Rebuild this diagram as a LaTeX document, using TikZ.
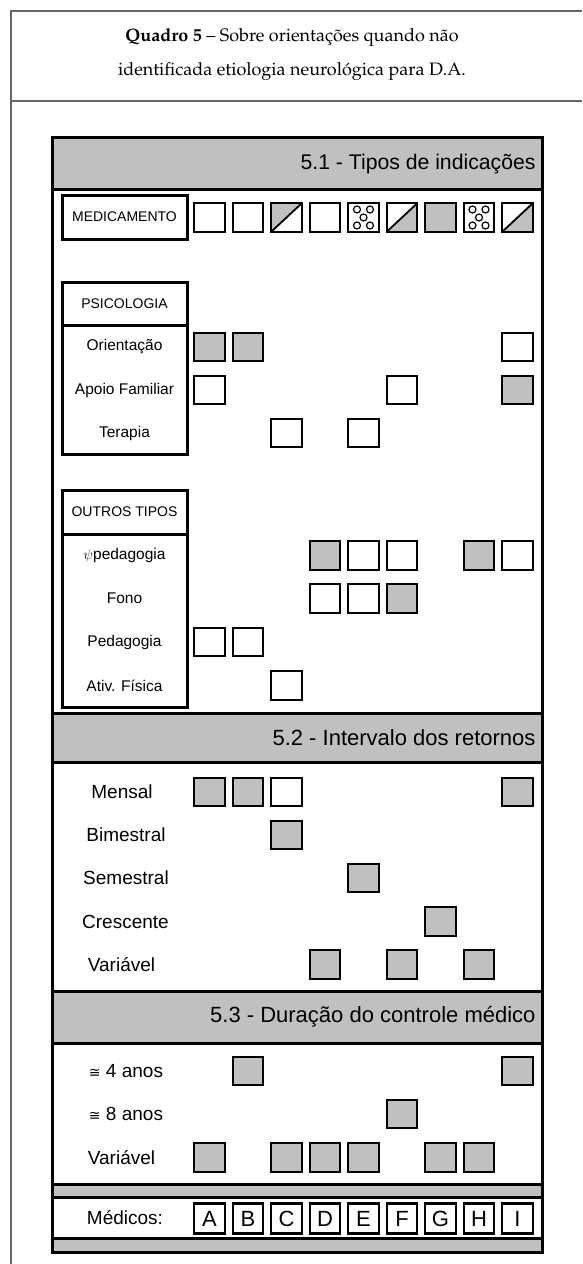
\documentclass[tikz,border=0pt]{standalone}
\usepackage[T1]{fontenc}
\usepackage{fontspec}
\setsansfont{Liberation Sans}
\newfontfamily\simbolo{DejaVu Sans}
\usepackage{tikz}

\definecolor{cinza}{RGB}{192,192,192}

\begin{document}
\begin{tikzpicture}[x = 1pt, y = -1pt,
  marca/.style = {draw, line width = 2.4pt, minimum width = 30.5pt, minimum height = 28.5pt, inner sep = 0pt},
  vazio/.style = {marca, fill = white},
  cheio/.style = {marca, fill = cinza},
  meiacima/.style = {marca, fill = white, path picture = {
     \fill[cinza] (path picture bounding box.north west) -- (path picture bounding box.north east) -- (path picture bounding box.south west) -- cycle;
     \draw[line width = 1.8pt] (path picture bounding box.south west) -- (path picture bounding box.north east);}},
  meiabaixo/.style = {marca, fill = white, path picture = {
     \fill[cinza] (path picture bounding box.south west) -- (path picture bounding box.south east) -- (path picture bounding box.north east) -- cycle;
     \draw[line width = 1.8pt] (path picture bounding box.south west) -- (path picture bounding box.north east);}},
  bolinha/.style = {line width = 1.2pt},
  letra/.style = {marca, fill = white, minimum height = 30pt, font = \sffamily\fontsize{22}{22}\selectfont},
  grupo/.style = {line width = 3pt},
  rotulo/.style = {font = \sffamily\fontsize{14}{15}\selectfont},
  subrotulo/.style = {font = \sffamily\fontsize{15.5}{16}\selectfont},
  linha/.style = {font = \sffamily\fontsize{19}{20}\selectfont},
  faixa/.style = {font = \sffamily\fontsize{22}{24}\selectfont, anchor = east}]

\useasboundingbox (0,0) rectangle (582,1264);

% moldura do quadro
\draw[line width = 1.3pt, black!60] (11,1264) -- (11,11) -- (582,11);
\draw[line width = 1.3pt, black!60] (11,101) -- (582,101);
\node[align = center, font = \fontencoding{T1}\fontfamily{ppl}\fontsize{18}{34}\selectfont] (titulo) at (292,55)
  {{\bfseries Quadro 5} -- Sobre orientações quando não\\identificada etiologia neurológica para D.A.};

% faixas cinzentas
\fill[cinza] (52,137) rectangle (542,189);
\fill[cinza] (52,713) rectangle (542,762);
\fill[cinza] (52,991) rectangle (542,1043);
\fill[cinza] (52,1184) rectangle (542,1197);
\fill[cinza] (52,1238) rectangle (542,1252);
\draw[grupo] (52,137) rectangle (542,1252);
\draw[grupo] (52,189) -- (542,189);
\draw[grupo] (52,713) -- (542,713);
\draw[grupo] (52,762) -- (542,762);
\draw[grupo] (52,991) -- (542,991);
\draw[grupo] (52,1043) -- (542,1043);
\draw[grupo] (52,1184) -- (542,1184);
\draw[grupo] (52,1197) -- (542,1197);
\draw[grupo] (52,1238) -- (542,1238);
\node[faixa, font = \sffamily\fontsize{21.2}{24}\selectfont] (f1) at (539,164) {5.1 - Tipos de indicações};
\node[faixa] (f2) at (539,738) {5.2 - Intervalo dos retornos};
\node[faixa] (f3) at (539,1017) {5.3 - Duração do controle médico};

% 5.1
\draw[grupo] (62,195) rectangle (187,239);
\draw[grupo] (62,282) rectangle (187,454);
\draw[grupo] (62,325) -- (187,325);
\draw[grupo] (62,490) rectangle (187,707);
\draw[grupo] (62,534) -- (187,534);
\node[rotulo] (med) at (124.5,217) {MEDICAMENTO};
\node[rotulo] (psi) at (124.5,303.5) {PSICOLOGIA};
\node[subrotulo] (ori) at (124.5,347) {Orientação};
\node[subrotulo] (apo) at (124.5,390) {Apoio Familiar};
\node[subrotulo] (ter) at (124.5,433) {Terapia};
\node[rotulo] (out) at (124.5,512) {OUTROS TIPOS};
\node[subrotulo] (ped) at (124.5,555.5) {$\psi$pedagogia};
\node[subrotulo] (fon) at (124.5,598.5) {Fono};
\node[subrotulo] (pdg) at (124.5,642) {Pedagogia};
\node[subrotulo] (ati) at (124.5,685.5) {Ativ. Física};

\node[vazio] (med-A) at (209.5,217.5) {};
\node[vazio] (med-B) at (248,217.5) {};
\node[meiacima] (med-C) at (286.5,217.5) {};
\node[vazio] (med-D) at (325,217.5) {};
\node[vazio] (med-E) at (363.5,217.5) {};
\node[meiabaixo] (med-F) at (402,217.5) {};
\node[cheio] (med-G) at (440.5,217.5) {};
\node[vazio] (med-H) at (479,217.5) {};
\node[meiabaixo] (med-I) at (517.5,217.5) {};
\draw[bolinha] (med-E) ++(-6.5,-8) circle[radius = 3.5];
\draw[bolinha] (med-E) ++(6.5,-8) circle[radius = 3.5];
\draw[bolinha] (med-E) ++(0,0) circle[radius = 3.5];
\draw[bolinha] (med-E) ++(-6.5,8) circle[radius = 3.5];
\draw[bolinha] (med-E) ++(6.5,8) circle[radius = 3.5];
\draw[bolinha] (med-H) ++(-6.5,-8) circle[radius = 3.5];
\draw[bolinha] (med-H) ++(6.5,-8) circle[radius = 3.5];
\draw[bolinha] (med-H) ++(0,0) circle[radius = 3.5];
\draw[bolinha] (med-H) ++(-6.5,8) circle[radius = 3.5];
\draw[bolinha] (med-H) ++(6.5,8) circle[radius = 3.5];

\node[cheio] (ori-A) at (209.5,347) {};
\node[cheio] (ori-B) at (248,347) {};
\node[vazio] (ori-I) at (517.5,347) {};
\node[vazio] (apo-A) at (209.5,390) {};
\node[vazio] (apo-F) at (402,390) {};
\node[cheio] (apo-I) at (517.5,390) {};
\node[vazio] (ter-C) at (286.5,433) {};
\node[vazio] (ter-E) at (363.5,433) {};

\node[cheio] (ped-D) at (325,555.5) {};
\node[vazio] (ped-E) at (363.5,555.5) {};
\node[vazio] (ped-F) at (402,555.5) {};
\node[cheio] (ped-H) at (479,555.5) {};
\node[vazio] (ped-I) at (517.5,555.5) {};
\node[vazio] (fon-D) at (325,598.5) {};
\node[vazio] (fon-E) at (363.5,598.5) {};
\node[cheio] (fon-F) at (402,598.5) {};
\node[vazio] (pdg-A) at (209.5,642) {};
\node[vazio] (pdg-B) at (248,642) {};
\node[vazio] (ati-C) at (286.5,685.5) {};

% 5.2
\node[linha] (men) at (122,792) {Mensal};
\node[linha] (bim) at (126,835) {Bimestral};
\node[linha] (sem) at (126,878) {Semestral};
\node[linha] (cre) at (125.5,921.5) {Crescente};
\node[linha] (var) at (121.5,964.5) {Variável};
\node[cheio] (men-A) at (209.5,792) {};
\node[cheio] (men-B) at (248,792) {};
\node[vazio] (men-C) at (286.5,792) {};
\node[cheio] (men-I) at (517.5,792) {};
\node[cheio] (bim-C) at (286.5,835) {};
\node[cheio] (sem-E) at (363.5,878) {};
\node[cheio] (cre-G) at (440.5,921.5) {};
\node[cheio] (var-D) at (325,964.5) {};
\node[cheio] (var-F) at (402,964.5) {};
\node[cheio] (var-H) at (479,964.5) {};

% 5.3
\node[linha] (qua) at (126,1071) {{\simbolo\fontsize{14}{14}\selectfont ≅} 4 anos};
\node[linha] (oit) at (126,1114) {{\simbolo\fontsize{14}{14}\selectfont ≅} 8 anos};
\node[linha] (vdu) at (121.5,1157.5) {Variável};
\node[cheio] (qua-B) at (248,1071) {};
\node[cheio] (qua-I) at (517.5,1071) {};
\node[cheio] (oit-F) at (402,1114) {};
\node[cheio] (vdu-A) at (209.5,1157.5) {};
\node[cheio] (vdu-C) at (286.5,1157.5) {};
\node[cheio] (vdu-D) at (325,1157.5) {};
\node[cheio] (vdu-E) at (363.5,1157.5) {};
\node[cheio] (vdu-G) at (440.5,1157.5) {};
\node[cheio] (vdu-H) at (479,1157.5) {};

% medicos
\node[linha] (medicos) at (125,1218) {Médicos:};
\node[letra] (A) at (209.5,1218.5) {A};
\node[letra] (B) at (248,1218.5) {B};
\node[letra] (C) at (286.5,1218.5) {C};
\node[letra] (D) at (325,1218.5) {D};
\node[letra] (E) at (363.5,1218.5) {E};
\node[letra] (F) at (402,1218.5) {F};
\node[letra] (G) at (440.5,1218.5) {G};
\node[letra] (H) at (479,1218.5) {H};
\node[letra] (I) at (517.5,1218.5) {I};
\end{tikzpicture}
\end{document}
